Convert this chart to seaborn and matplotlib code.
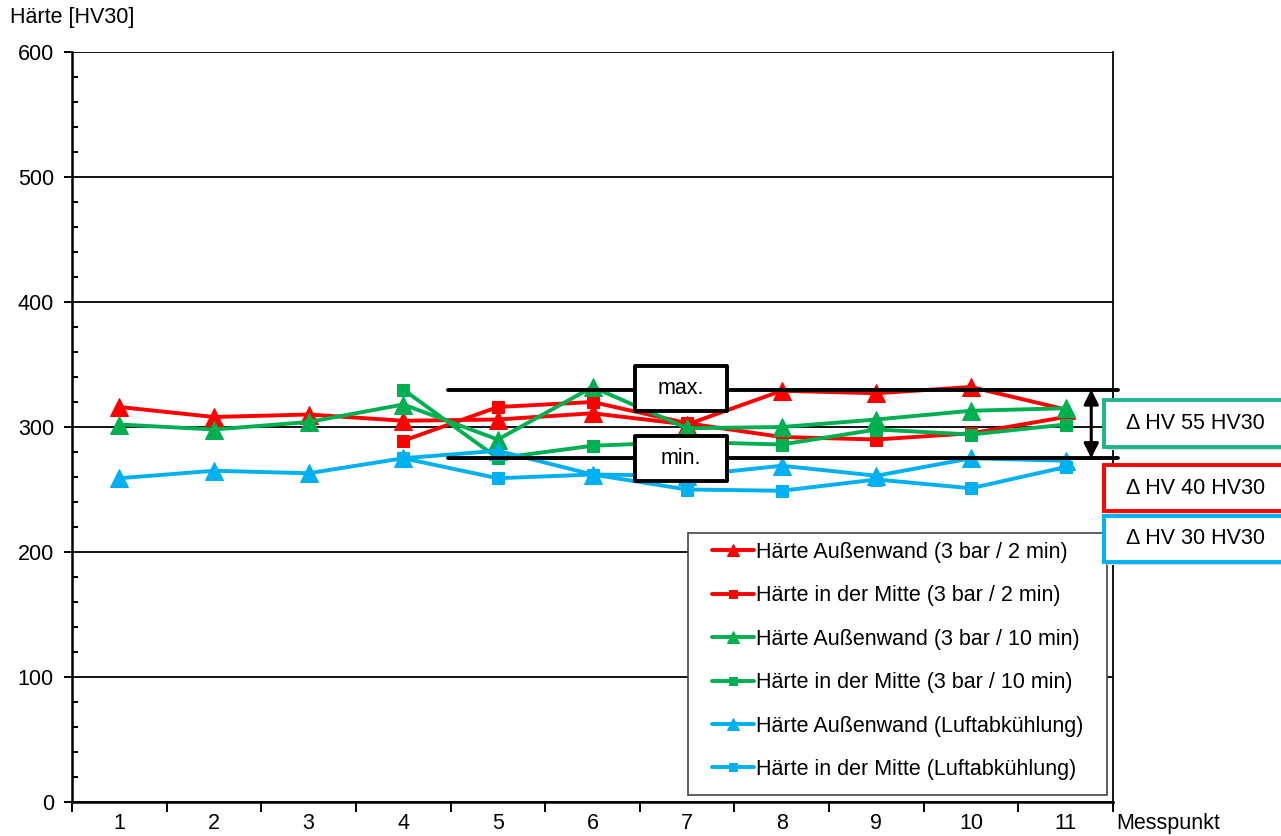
import numpy as np
import pandas as pd
import seaborn as sns
import matplotlib.pyplot as plt
from matplotlib.patches import Rectangle
from matplotlib.ticker import MultipleLocator, FixedLocator

# Messpunkte und Härtewerte [HV30]
messpunkt = list(range(1, 12))
aussen_2min = [316, 308, 310, 305, 306, 311, 302, 329, 327, 332, 314]
mitte_2min = [np.nan, np.nan, np.nan, 289, 316, 320, 303, 292, 290, 295, 308]
aussen_10min = [302, 298, 304, 318, 290, 332, 299, 300, 306, 313, 315]
mitte_10min = [np.nan, np.nan, np.nan, 330, 275, 285, 288, 286, 298, 294, 302]
aussen_luft = [259, 265, 263, 275, 281, 262, 261, 269, 261, 275, 273]
mitte_luft = [np.nan, np.nan, np.nan, 275, 259, 262, 250, 249, 258, 251, 268]

hv_max = 330
hv_min = 275
delta_texte = ["\u0394 HV 55 HV30", "\u0394 HV 40 HV30", "\u0394 HV 30 HV30"]

rot, gruen, blau = "#FF0000", "#00B050", "#00B0F0"
serien = [
    ("Härte Außenwand (3 bar / 2 min)", aussen_2min, rot, "^"),
    ("Härte in der Mitte (3 bar / 2 min)", mitte_2min, rot, "s"),
    ("Härte Außenwand (3 bar / 10 min)", aussen_10min, gruen, "^"),
    ("Härte in der Mitte (3 bar / 10 min)", mitte_10min, gruen, "s"),
    ("Härte Außenwand (Luftabkühlung)", aussen_luft, blau, "^"),
    ("Härte in der Mitte (Luftabkühlung)", mitte_luft, blau, "s"),
]

FS = 15.5

sns.set_style("white")
plt.rcParams["font.family"] = ["Liberation Sans", "DejaVu Sans"]
plt.rcParams["text.color"] = "black"
plt.rcParams["xtick.color"] = "black"
plt.rcParams["ytick.color"] = "black"

fig = plt.figure(figsize=(12.81, 8.36), dpi=100)
ax = fig.add_axes([72 / 1281, 1 - 802 / 836, 1041 / 1281, 750 / 836])

for name, werte, farbe, marker in serien:
    df = pd.DataFrame({"x": messpunkt, "y": werte}).dropna()
    sns.lineplot(data=df, x="x", y="y", ax=ax, color=farbe, marker=marker,
                 markersize=12.5 if marker == "^" else 9, markeredgecolor=farbe,
                 linewidth=2.8, label=name, zorder=3)

# max./min. Linien
ax.plot([4.47, 11.55], [hv_max, hv_max], color="black", lw=2.8, zorder=4, clip_on=False)
ax.plot([4.47, 11.55], [hv_min, hv_min], color="black", lw=2.8, zorder=4, clip_on=False)
bw, bh = 92 / 94.64, 45 / 1.25
for txt, yv in [("max.", 331), ("min.", 275)]:
    ax.add_patch(Rectangle((6.935 - bw / 2, yv - bh / 2), bw, bh, fc="white", ec="black",
                           lw=2.8, joinstyle="round", zorder=6))
    ax.text(6.935, yv, txt, ha="center", va="center", fontsize=FS, zorder=7)
ax.annotate("", xy=(11.27, hv_max), xytext=(11.27, hv_min),
            arrowprops=dict(arrowstyle="<|-|>", color="black", lw=2.2, mutation_scale=22,
                            shrinkA=0, shrinkB=0), zorder=5)

ax.set_xlim(0.5, 11.5)
ax.set_ylim(0, 600)
ax.xaxis.set_major_locator(FixedLocator(np.arange(0.5, 12, 1)))
ax.set_xticklabels([])
ax.xaxis.set_minor_locator(FixedLocator(messpunkt))
ax.set_xticklabels([str(m) for m in messpunkt], minor=True)
ax.tick_params(axis="x", which="major", direction="out", length=7, width=1.4, color="black", bottom=True)
ax.tick_params(axis="x", which="minor", length=0, labelsize=FS, pad=8)
ax.yaxis.set_major_locator(MultipleLocator(100))
ax.yaxis.set_minor_locator(MultipleLocator(20))
ax.tick_params(axis="y", which="major", direction="out", length=6, width=1.4, color="black",
               left=True, labelsize=FS, pad=7)
ax.tick_params(axis="y", which="minor", direction="in", length=4, width=1.4, color="black", left=True)
ax.grid(axis="y", which="major", color="black", lw=1.3)
ax.set_axisbelow(True)
for s in ["left", "bottom"]:
    ax.spines[s].set_color("black")
    ax.spines[s].set_linewidth(1.8)
ax.spines["right"].set_color("black")
ax.spines["right"].set_linewidth(1.3)
ax.spines["top"].set_visible(False)
ax.set_xlabel("")
ax.set_ylabel("")

# Legendenrahmen separat, Legende ohne Rahmen
ax.add_patch(Rectangle(((688 - 72) / 1041, (802 - 795) / 750), (1107 - 688) / 1041, (795 - 533) / 750,
                       transform=ax.transAxes, fc="white", ec="#444444", lw=1.2, zorder=8))
leg = ax.legend(loc="upper left", bbox_to_anchor=((712 - 72) / 1041, (802 - 542) / 750),
                fontsize=FS, frameon=False, labelspacing=1.04, handlelength=1.95,
                handletextpad=0.1, borderpad=0, borderaxespad=0, markerscale=0.7)
leg.set_zorder(9)

fig.text(10 / 1281, 1 - 17 / 836, "Härte [HV30]", fontsize=FS, va="center", ha="left")
fig.text(1116 / 1281, 1 - 823 / 836, "Messpunkt", fontsize=FS, va="center", ha="left")

# Delta-Kästen rechts
for (txt, farbe, y0, y1) in [(delta_texte[0], "#1DB38E", 400, 447),
                             (delta_texte[1], rot, 465, 511),
                             (delta_texte[2], blau, 516, 562)]:
    x0 = 1104
    fig.patches.append(Rectangle(((x0 + 3) / 1281, 1 - (y1 + 3) / 836), 200 / 1281, (y1 - y0) / 836,
                                 transform=fig.transFigure, fc="#d8d8d8", ec="none", zorder=8))
    fig.patches.append(Rectangle((x0 / 1281, 1 - y1 / 836), 200 / 1281, (y1 - y0) / 836,
                                 transform=fig.transFigure, fc="white", ec=farbe, lw=2.8, zorder=9))
    fig.text(1126 / 1281, 1 - (y0 + y1) / 2 / 836, txt, fontsize=FS, va="center", ha="left", zorder=10)

fig.savefig("out.png", dpi=100)
